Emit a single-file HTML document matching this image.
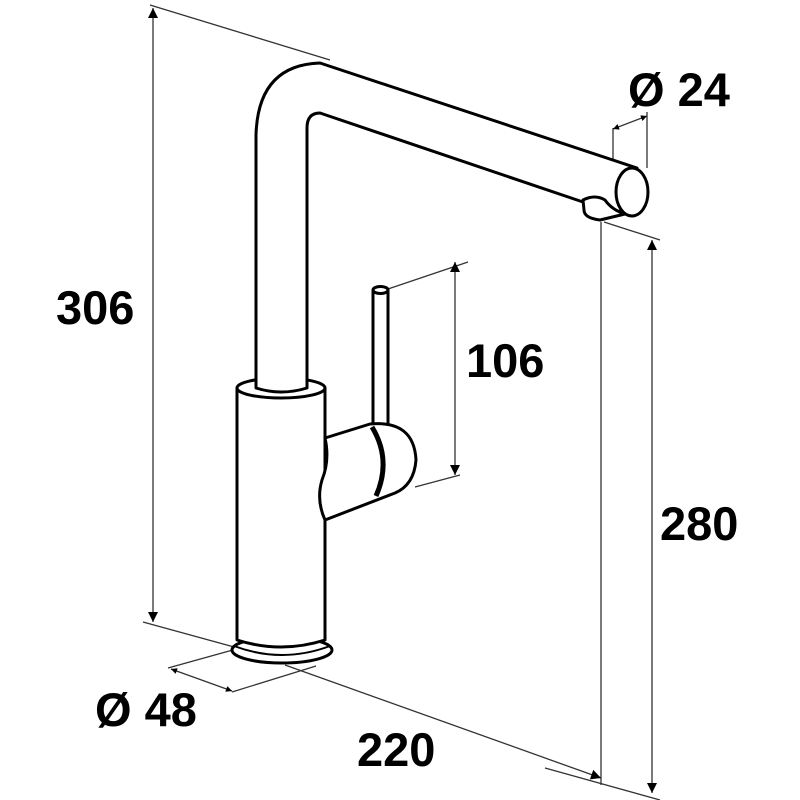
<!DOCTYPE html>
<html><head><style>body{margin:0;background:#fff}svg{display:block}</style></head><body>
<svg width="800" height="800" viewBox="0 0 800 800" xmlns="http://www.w3.org/2000/svg">
<defs><marker id="a" viewBox="0 0 10 10" refX="10" refY="5" markerWidth="12" markerHeight="6" markerUnits="userSpaceOnUse" orient="auto-start-reverse"><path d="M0,0L10,5L0,10z" fill="#000"/></marker>
<marker id="b" viewBox="0 0 10 10" refX="10" refY="5" markerWidth="22" markerHeight="10" markerUnits="userSpaceOnUse" orient="auto-start-reverse"><path d="M0,0L10,5L0,10z" fill="#000"/></marker></defs>
<g stroke="#333" stroke-width="1.3" fill="none">
<line x1="150" y1="5" x2="330" y2="60"/>
<line x1="143" y1="622" x2="245" y2="650"/>
<line x1="153" y1="8" x2="153" y2="622" marker-start="url(#b)" marker-end="url(#b)"/>
<line x1="604" y1="222" x2="660" y2="240"/>
<line x1="601" y1="222" x2="601" y2="785"/>
<line x1="652" y1="240" x2="652" y2="793" marker-start="url(#b)" marker-end="url(#b)"/>
<line x1="545" y1="768" x2="660" y2="800"/>
<line x1="285" y1="665" x2="601" y2="778" marker-end="url(#b)"/>
<line x1="385" y1="290" x2="468" y2="262"/>
<line x1="415" y1="487" x2="460" y2="475"/>
<line x1="455" y1="262" x2="455" y2="475" marker-start="url(#b)" marker-end="url(#b)"/>
<line x1="613" y1="128" x2="613" y2="192"/>
<line x1="647" y1="112" x2="647" y2="168"/>
<line x1="613" y1="129" x2="647" y2="116" marker-start="url(#a)" marker-end="url(#a)"/>
<line x1="168" y1="668" x2="240" y2="648"/>
<line x1="232" y1="692" x2="316" y2="666"/>
<line x1="171" y1="669" x2="232" y2="691" marker-start="url(#a)" marker-end="url(#a)"/>
</g>
<g stroke="#000" stroke-width="3" fill="#fff" stroke-linejoin="round">
<!-- base ring -->
<ellipse cx="282" cy="650" rx="50" ry="13"/>
<path d="M234,646 Q282,664 330,646" fill="none" stroke-width="2"/>
<!-- body -->
<path d="M237,388 L237,640 Q281,654 325,640 L325,388 Z"/>
<ellipse cx="281" cy="388" rx="44" ry="10"/>
<!-- spout -->
<path d="M256,388 L256,135 Q258,65 320,63 L637,168 L633,215 L583,202 L320,113 Q307,113 307,128 L307,388 Q281,396 256,388 Z"/>
<path d="M583,200 Q595,194 605,200 Q612,210 625,214 L600,220 Q584,218 584,210 Z"/>
<ellipse cx="632" cy="192" rx="16" ry="24"/>
<!-- lever rod -->
<rect x="373" y="290" width="15" height="140"/>
<ellipse cx="380.5" cy="290" rx="7.5" ry="3.5"/>
<!-- handle -->
<path d="M325,438 L370,424 Q414,420 416,460 Q414,485 395,493 L325,520 Q316,500 322,480 Q330,460 325,438 Z"/>
<path d="M372,427 Q392,460 376,496" fill="none" stroke-width="5"/>
</g>
<g font-family="Liberation Sans, sans-serif" font-weight="bold" font-size="47" fill="#000">
<text x="56" y="324">306</text>
<text x="466" y="377">106</text>
<text x="660" y="540">280</text>
<text x="357" y="766">220</text>
<text x="95" y="726">Ø 48</text>
<text x="628" y="106">Ø 24</text>
</g>
</svg>
</body></html>
